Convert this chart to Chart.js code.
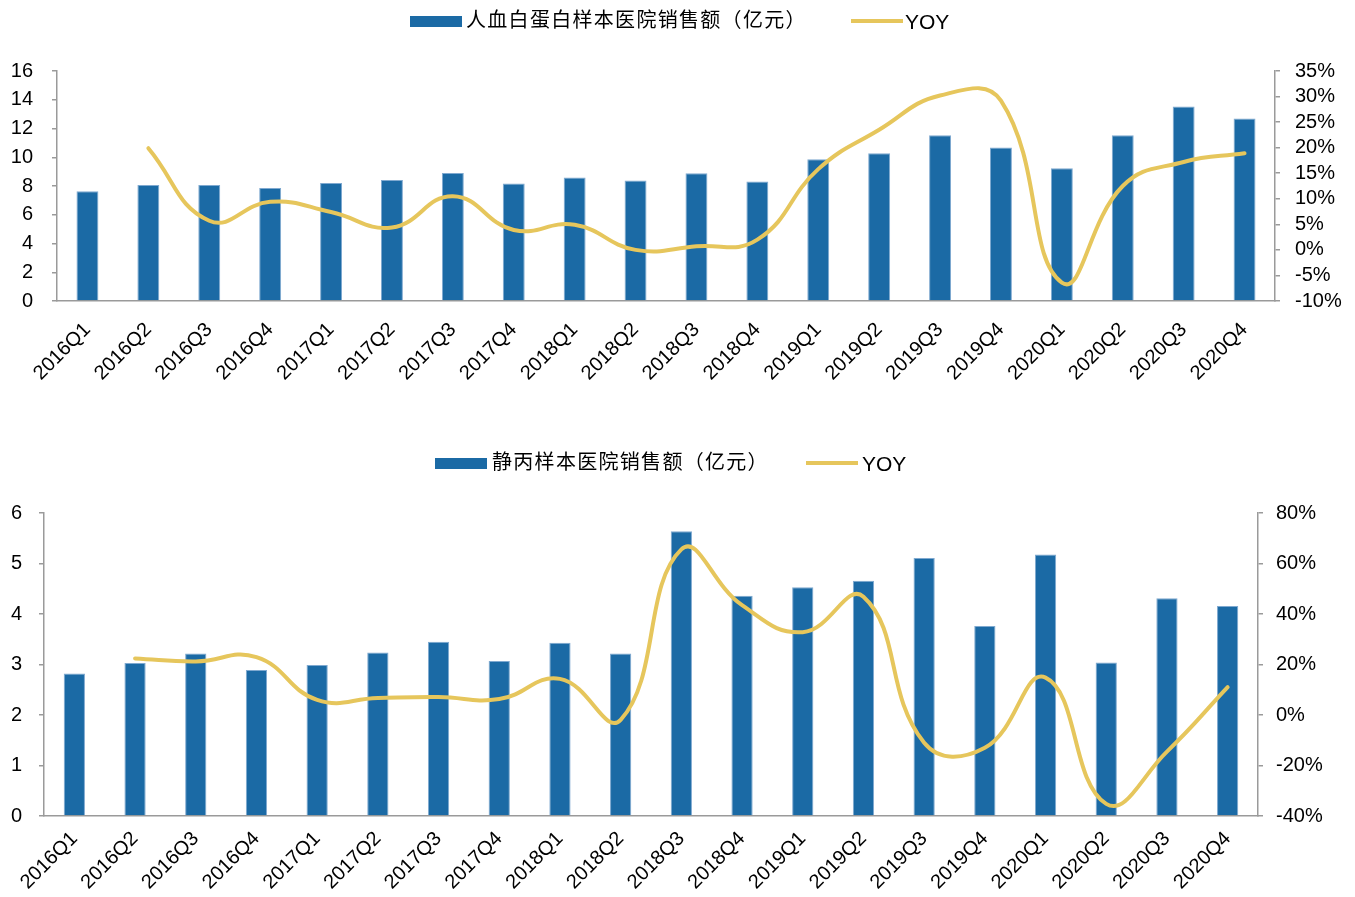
<!DOCTYPE html>
<html>
<head>
<meta charset="utf-8">
<script src="https://cdn.jsdelivr.net/npm/chart.js@4.4.1/dist/chart.umd.min.js"></script>
<style>
  html, body { margin: 0; padding: 0; background: #fff; }
  body { width: 1355px; height: 897px; position: relative; overflow: hidden; }
  canvas { position: absolute; left: 0; }
  .lg { position: absolute; white-space: nowrap; color: #000; line-height: 1; }
  .lg-box { position: absolute; background: #1B6AA5; height: 11px; width: 52px; }
  .lg-line { position: absolute; background: #E6C65C; height: 4px; width: 52px; }
  .lg-cn { font-family: "Noto Sans CJK SC", "Liberation Sans", sans-serif; font-size: 20px; letter-spacing: 1.3px; }
  .lg-en { font-family: "Liberation Sans", Arial, sans-serif; font-size: 21px; }
</style>
</head>
<body>
<canvas id="c1" width="1355" height="400" style="top:0px"></canvas>
<canvas id="c2" width="1355" height="457" style="top:440px"></canvas>

<div class="lg-box" style="left:410px; top:16px;"></div>
<div class="lg lg-cn" style="left:466px; top:9px;">人血白蛋白样本医院销售额（亿元）</div>
<div class="lg-line" style="left:851px; top:19px;"></div>
<div class="lg lg-en" style="left:905px; top:11px;">YOY</div>

<div class="lg-box" style="left:435px; top:458px;"></div>
<div class="lg lg-cn" style="left:492px; top:451px;">静丙样本医院销售额（亿元）</div>
<div class="lg-line" style="left:806px; top:461px;"></div>
<div class="lg lg-en" style="left:862px; top:453px;">YOY</div>

<script>
const quarters = ['2016Q1','2016Q2','2016Q3','2016Q4','2017Q1','2017Q2','2017Q3','2017Q4',
  '2018Q1','2018Q2','2018Q3','2018Q4','2019Q1','2019Q2','2019Q3','2019Q4',
  '2020Q1','2020Q2','2020Q3','2020Q4'];

// 人血白蛋白样本医院销售额（亿元）
const albuminSales = [7.63, 8.07, 8.07, 7.86, 8.21, 8.42, 8.90, 8.18, 8.60, 8.39,
  8.89, 8.31, 9.86, 10.28, 11.53, 10.67, 9.23, 11.53, 13.53, 12.69];
// YOY (%)
const albuminYoy = [null, 19.9, 5.7, 9.4, 7.4, 4.4, 10.5, 3.9, 4.9, 0.0,
  0.7, 2.0, 15.8, 23.5, 30.2, 29.2, -6.4, 12.5, 17.2, 18.9];

// 静丙样本医院销售额（亿元）
const ivigSales = [2.82, 3.03, 3.22, 2.89, 2.99, 3.24, 3.45, 3.07, 3.43, 3.22,
  5.64, 4.36, 4.53, 4.66, 5.11, 3.76, 5.18, 3.04, 4.31, 4.16];
// YOY (%)
const ivigYoy = [null, 22.4, 21.2, 22.9, 6.0, 6.7, 7.1, 6.3, 14.3, -1.9,
  65.6, 43.5, 32.8, 46.8, -11.0, -13.0, 14.8, -35.2, -14.5, 11.0];

// axis tick settings
const albuminAxis = { min: 0, max: 16, step: 2 };
const albuminYoyAxis = { min: -10, max: 35, step: 5 };
const ivigAxis = { min: 0, max: 6, step: 1 };
const ivigYoyAxis = { min: -40, max: 80, step: 20 };

const BLUE = '#1B6AA5';
const BAR_EDGE = '#7FA9D0';
const GOLD = '#E6C65C';
const AXIS = '#9a9a9a';
const FONT = { family: '"Liberation Sans", Arial, sans-serif', size: 20 };

function makeChart(id, sales, yoy, axL, axR, cfg) {
  return new Chart(document.getElementById(id), {
    type: 'bar',
    data: {
      labels: quarters,
      datasets: [
        {
          type: 'line', data: yoy, yAxisID: 'y1', order: 0,
          borderColor: GOLD, backgroundColor: GOLD, borderWidth: 4,
          pointRadius: 0, tension: 0.45, borderCapStyle: 'round', fill: false
        },
        {
          type: 'bar', data: sales, yAxisID: 'y', order: 1,
          backgroundColor: BLUE, borderColor: BAR_EDGE, borderWidth: 1,
          barPercentage: cfg.barPct, categoryPercentage: 1.0
        }
      ]
    },
    options: {
      responsive: false,
      animation: false,
      events: [],
      layout: { padding: { top: cfg.top, left: 0, right: 0, bottom: 0 } },
      plugins: { legend: { display: false }, tooltip: { enabled: false } },
      scales: {
        x: {
          grid: { display: false },
          border: { display: true, color: AXIS, width: 1.5 },
          ticks: { color: '#000', font: FONT, minRotation: 45, maxRotation: 45, padding: cfg.xPad, autoSkip: false },
          afterFit: s => { s.height = cfg.xH; }
        },
        y: {
          position: 'left', min: axL.min, max: axL.max,
          ticks: { stepSize: axL.step, color: '#000', font: FONT, padding: cfg.lPad, autoSkip: false },
          grid: { drawOnChartArea: false, drawTicks: true, tickLength: 5, color: AXIS, lineWidth: 1.5 },
          border: { display: true, color: AXIS, width: 1.5 },
          afterFit: s => { s.width = cfg.lW; }
        },
        y1: {
          position: 'right', min: axR.min, max: axR.max,
          ticks: { stepSize: axR.step, color: '#000', font: FONT, padding: cfg.rPad, autoSkip: false, callback: v => v + '%' },
          grid: { drawOnChartArea: false, drawTicks: true, tickLength: 5, color: AXIS, lineWidth: 1.5 },
          border: { display: true, color: AXIS, width: 1.5 },
          afterFit: s => { s.width = cfg.rW; }
        }
      }
    }
  });
}

makeChart('c1', albuminSales, albuminYoy, albuminAxis, albuminYoyAxis,
  { top: 71, xH: 99, lW: 57, rW: 80, lPad: 19, rPad: 15, xPad: 9, barPct: 0.36 });
makeChart('c2', ivigSales, ivigYoy, ivigAxis, ivigYoyAxis,
  { top: 73, xH: 81, lW: 44, rW: 97, lPad: 17, rPad: 13, xPad: 3, barPct: 0.35 });
</script>
</body>
</html>
